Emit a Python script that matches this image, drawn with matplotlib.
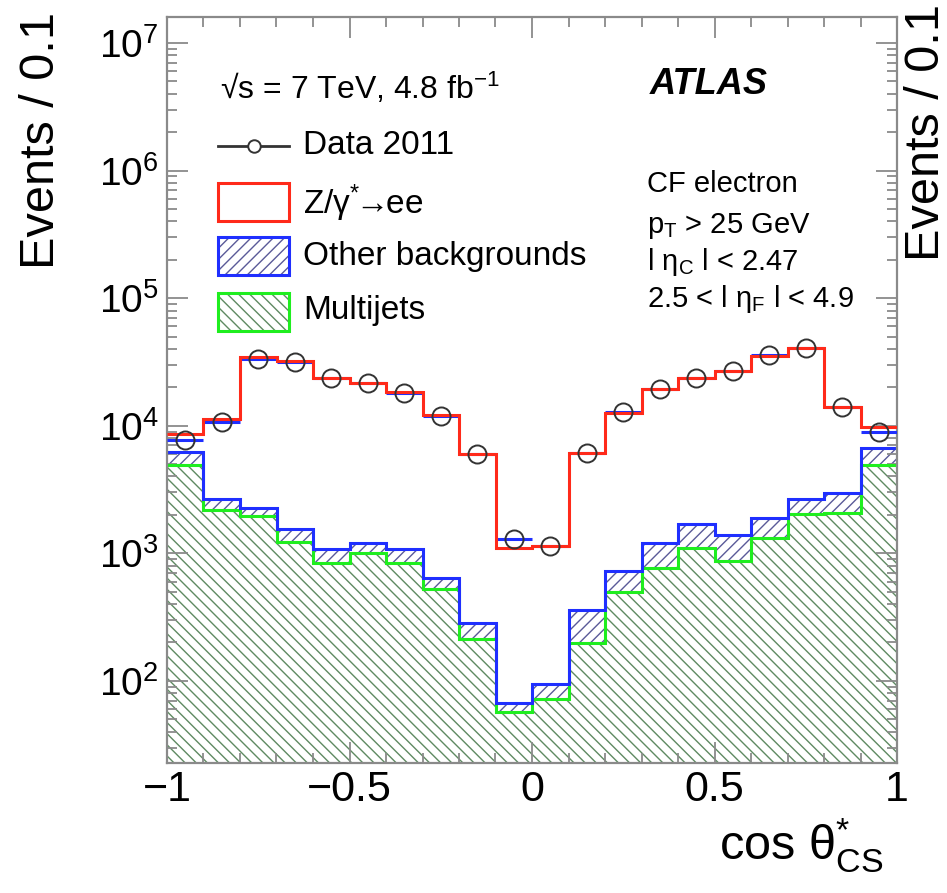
import numpy as np
import matplotlib
matplotlib.use("Agg")
import matplotlib.pyplot as plt
from matplotlib.patches import Rectangle
from matplotlib.lines import Line2D
from matplotlib.ticker import FixedLocator, FixedFormatter, MultipleLocator, LogLocator

plt.rcParams['font.family'] = ['Liberation Sans', 'DejaVu Sans']
plt.rcParams['mathtext.fontset'] = 'custom'
plt.rcParams['mathtext.rm'] = 'Liberation Sans'
plt.rcParams['mathtext.it'] = 'Liberation Sans:italic'
plt.rcParams['mathtext.bf'] = 'Liberation Sans:bold'
plt.rcParams['hatch.linewidth'] = 1.0

# bin edges of cos theta*_CS (20 bins of 0.1)
edges = np.linspace(-1, 1, 21)
centers = 0.5 * (edges[:-1] + edges[1:])

# stacked histogram tops (events / 0.1)
multijets = [4930, 2185, 1963, 1235, 845, 1012, 835, 522, 211, 57,
             72, 199, 497, 772, 1109, 871, 1327, 2023, 2085, 4930]
other_top = [6230, 2650, 2280, 1543, 1088, 1213, 1075, 644, 282, 67,
             94, 359, 727, 1198, 1688, 1384, 1905, 2650, 2990, 6745]
zee_top = [8575, 11250, 34650, 32060, 23880, 21800, 18420, 12080, 5975, 1109,
           1141, 6160, 12690, 19560, 23880, 26900, 35300, 40500, 14130, 9790]
data = [7750, 10700, 33650, 31320, 23700, 21500, 17990, 11900, 5975, 1288,
        1140, 6100, 12800, 19560, 23880, 26900, 35900, 41000, 14130, 8850]

xtick_pos = [-1, -0.5, 0, 0.5, 1]
xtick_labels = ['\u22121', '\u22120.5', '0', '0.5', '1']

red = '#ff2a1a'
blue = '#1f2fff'
green = '#1fee1f'
hatch_green = '#5f8a62'
hatch_blue = '#5a5a98'
frame = '#8a8a8a'

W, H = 947, 893
fig = plt.figure(figsize=(W / 100, H / 100), dpi=100)
ax = fig.add_axes([167 / W, 1 - 763 / H, 730 / W, (763 - 17) / H])

def px(x, y):
    return (x / W, 1 - y / H)

# filled (hatched) parts of the stack
ax.stairs(multijets, edges, baseline=1, fill=True, facecolor='none',
          edgecolor=hatch_green, hatch='\\\\\\', linewidth=0, zorder=1)
ax.stairs(other_top, edges, baseline=multijets, fill=True, facecolor='none',
          edgecolor=hatch_blue, hatch='///', linewidth=0, zorder=1)

# outlines
ax.stairs(multijets, edges, baseline=None, color=green, lw=2.2, zorder=2)
ax.stairs(other_top, edges, baseline=None, color=blue, lw=2.2, zorder=2)
ax.hlines(data, edges[:-1], edges[1:], colors=blue, lw=2.2, zorder=3)
ax.stairs(zee_top, edges, baseline=None, color=red, lw=2.2, zorder=4)

# data points
ax.plot(centers, data, 'o', ms=13, mfc='none', mec='#333333', mew=1.4, zorder=5)

ax.set_yscale('log')
ax.set_xlim(-1, 1)
ax.set_ylim(22.7, 1.6e7)

ax.xaxis.set_major_locator(FixedLocator(xtick_pos))
ax.xaxis.set_major_formatter(FixedFormatter(xtick_labels))
ax.xaxis.set_minor_locator(MultipleLocator(0.1))
ax.yaxis.set_major_locator(LogLocator(base=10, numticks=20))
ax.yaxis.set_minor_locator(LogLocator(base=10, subs=np.arange(2, 10), numticks=20))
ax.yaxis.set_minor_formatter(plt.NullFormatter())

for s in ax.spines.values():
    s.set_color(frame)
    s.set_linewidth(1.6)
ax.tick_params(which='both', direction='in', top=True, right=True, color=frame, width=1.3)
ax.tick_params(which='major', length=15)
ax.tick_params(which='minor', length=7.5)
ax.tick_params(axis='x', which='major', labelsize=31, pad=5)
ax.tick_params(axis='y', which='major', labelsize=28, pad=6)

# axis titles
fig.text(*px(42, 12), 'Events / 0.1', rotation=90, ha='center', va='top', fontsize=35)
fig.text(*px(926, 4), 'Events / 0.1', rotation=90, ha='center', va='top', fontsize=35)
fig.text(*px(883, 860), r'cos $\mathregular{\theta^{*}_{CS}}$', ha='right', va='baseline', fontsize=35)

# labels
fig.text(*px(220, 88), '\u221as = 7 TeV, 4.8 fb$^{\\mathregular{-1}}$', ha='left', va='center', fontsize=23)
fig.text(*px(650, 84), 'ATLAS', ha='left', va='center', fontsize=26, fontweight='bold', style='italic')
fig.text(*px(647, 184), 'CF electron', ha='left', va='center', fontsize=21)
fig.text(*px(647, 226), r'$\mathregular{p_{T}}$ > 25 GeV', ha='left', va='center', fontsize=21)
fig.text(*px(647, 262), r'l $\mathregular{\eta_{C}}$ l < 2.47', ha='left', va='center', fontsize=21)
fig.text(*px(647, 299), r'2.5 < l $\mathregular{\eta_{F}}$ l < 4.9', ha='left', va='center', fontsize=21)

# legend
lx0, lx1 = 218, 289
fig.add_artist(Line2D([lx0 / W, lx1 / W], [1 - 146 / H] * 2, color='#333333', lw=2))
fig.add_artist(Line2D([(lx0 + lx1) / 2 / W], [1 - 146 / H], marker='o', ms=9,
                      mfc='white', mec='#333333', mew=1.4))
boxes = [(183, 221, red, None, None), (237, 275, blue, hatch_blue, '///'),
         (293, 331, green, hatch_green, '\\\\\\')]
for y0, y1, lc, hc, hp in boxes:
    x, ytop = px(lx0, y1)
    w = (lx1 - lx0) / W
    h = (y1 - y0) / H
    if hp:
        fig.add_artist(Rectangle((x, ytop), w, h, transform=fig.transFigure,
                                 facecolor='none', edgecolor=hc, hatch=hp, lw=0))
    fig.add_artist(Rectangle((x, ytop), w, h, transform=fig.transFigure,
                             fill=False, edgecolor=lc, lw=2.2))
entries = [(146, 'Data 2011'), (203, r'Z/$\mathregular{\gamma^{*}}\!\!\rightarrow\!\!$ee'),
           (256, 'Other backgrounds'), (311, 'Multijets')]
for yy, txt in entries:
    fig.text(*px(303, yy), txt, ha='left', va='center', fontsize=24)

fig.savefig('out.png', dpi=100)
